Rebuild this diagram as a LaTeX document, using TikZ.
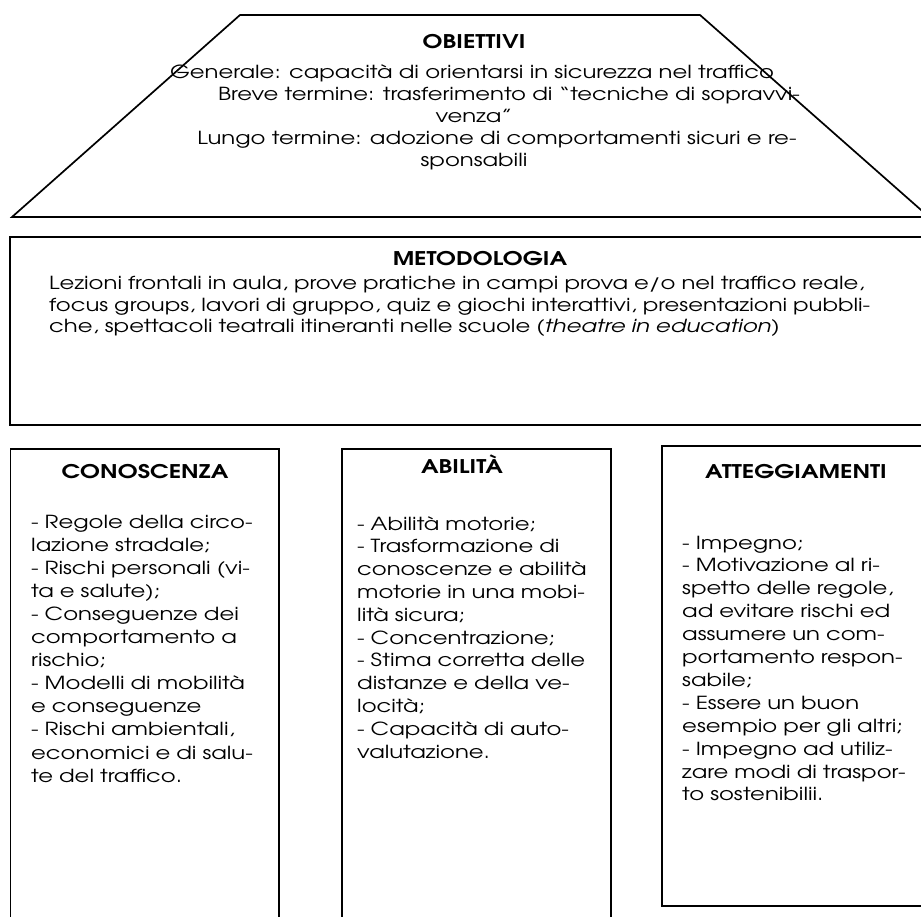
\documentclass[tikz,border=0pt]{standalone}
\usepackage{fontspec}
\setmainfont{texgyreadventor}[Extension=.otf, UprightFont=*-regular, BoldFont=*-bold, ItalicFont=*-italic, BoldItalicFont=*-bolditalic, FakeStretch=1.265]
\newlength\calA \newlength\calB \newlength\calC
\begin{document}
\settowidth\calA{\fontsize{10}{12}\selectfont Generale: capacità di orientarsi in sicurezza nel traffico}%
\settowidth\calB{\fontsize{10}{12}\selectfont Lezioni frontali in aula, prove pratiche in campi prova e/o nel traffico reale,}%
\settowidth\calC{\fontsize{10}{12}\selectfont\bfseries METODOLOGIAATTEGGIAMENTICONOSCENZA}%
\pgfmathsetmacro\fs{10*1423/(\calA+\calB)}%
\pgfmathsetmacro\fb{10*523/\calC}%
\begin{tikzpicture}[x=1pt,y=-1pt,
  frame/.style={draw=black, line width=1.7pt},
  ttl/.style={inner sep=0, anchor=base, font={\fontsize{\fb}{\fb}\selectfont\bfseries}},
  ctr/.style={inner sep=0, anchor=base, font={\fontsize{\fs}{22}\selectfont}},
  blk/.style={inner sep=0, anchor=base west, align=left, text width=#1},
  blk/.default=400pt]
\useasboundingbox (0,0) rectangle (921,916);
\begin{scope}
\clip (0,0) rectangle (921,916);
\draw[frame] (240,15) -- (700,15) -- (929,217) -- (12,217) -- cycle;
\draw[frame] (10,237) rectangle (935,425);
\draw[frame] (10.6,935) -- (10.6,449) -- (279,449) -- (279,935);
\draw[frame] (342,935) -- (342,449) -- (611,449) -- (611,935);
\draw[frame] (662,446) rectangle (935,906);
\end{scope}
% OBIETTIVI
\node[ttl] (obt) at (474,48) {OBIETTIVI};
\node[ctr] (ob1) at (472,78) {Generale: capacità di orientarsi in sicurezza nel traffico};
\node[ctr] (ob2) at (509,100.5) {Breve termine: trasferimento di “tecniche di sopravvi-};
\node[ctr] (ob3) at (474,122.5) {venza”};
\node[ctr] (ob4) at (497,144.5) {Lungo termine: adozione di comportamenti sicuri e re-};
\node[ctr] (ob5) at (474,166.5) {sponsabili};
% METODOLOGIA
\node[ttl] (met) at (480,265) {METODOLOGIA};
\node[blk=880pt, font={\fontsize{\fs}{21.5}\selectfont}] (metx) at (49,289.5)
 {Lezioni frontali in aula, prove pratiche in campi prova e/o nel traffico reale,\\
  focus groups, lavori di gruppo, quiz e giochi interattivi, presentazioni pubbli-\\
  che, spettacoli teatrali itineranti nelle scuole (\textit{theatre in education})};
% CONOSCENZA
\node[ttl] (con) at (145,478) {CONOSCENZA};
\node[blk, font={\fontsize{\fs}{23.1}\selectfont}] (conx) at (31,528)
 {- Regole della circo-\\
  lazione stradale;\\
  - Rischi personali (vi-\\
  ta e salute);\\
  - Conseguenze dei\\
  comportamento a\\
  rischio;\\
  - Modelli di mobilità\\
  e conseguenze\\
  - Rischi ambientali,\\
  economici e di salu-\\
  te del traffico.};
% ABILITA
\node[ttl] (abi) at (462,473) {ABILITÀ};
\node[blk, font={\fontsize{\fs}{22.8}\selectfont}] (abix) at (357,530)
 {- Abilità motorie;\\
  - Trasformazione di\\
  conoscenze e abilità\\
  motorie in una mobi-\\
  lità sicura;\\
  - Concentrazione;\\
  - Stima corretta delle\\
  distanze e della ve-\\
  locità;\\
  - Capacità di auto-\\
  valutazione.};
% ATTEGGIAMENTI
\node[ttl] (att) at (796,478) {ATTEGGIAMENTI};
\node[blk, font={\fontsize{\fs}{22.9}\selectfont}] (attx) at (682,549)
 {- Impegno;\\
  - Motivazione al ri-\\
  spetto delle regole,\\
  ad evitare rischi ed\\
  assumere un com-\\
  portamento respon-\\
  sabile;\\
  - Essere un buon\\
  esempio per gli altri;\\
  - Impegno ad utiliz-\\
  zare modi di traspor-\\
  to sostenibilii.};
\end{tikzpicture}
\end{document}
